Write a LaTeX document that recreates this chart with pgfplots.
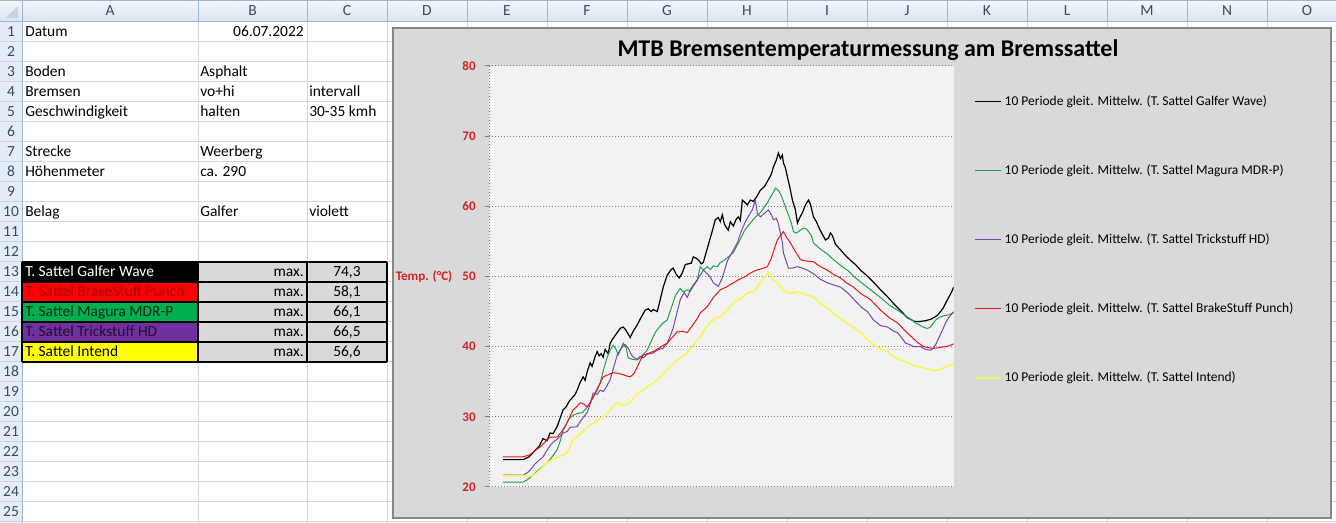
\documentclass[border=0pt]{standalone}
\usepackage{fontspec}
\setmainfont{Carlito}
\usepackage{pgfplots}
\pgfplotsset{compat=1.18}
\definecolor{gridc}{HTML}{D0D7E5}
\definecolor{hdrtop}{HTML}{F4F7FC}
\definecolor{hdrbot}{HTML}{DAE3EF}
\definecolor{rowhdr}{HTML}{E4ECF7}
\definecolor{hdrline}{HTML}{9EB6CE}
\definecolor{hdrtxt}{HTML}{3B4A63}
\definecolor{chartbg}{HTML}{D9D9D9}
\definecolor{chartborder}{HTML}{868686}
\definecolor{plotbg}{HTML}{F2F2F2}
\definecolor{gridgray}{HTML}{7F7F7F}
\definecolor{axred}{HTML}{D42323}
\definecolor{sgreen}{HTML}{1FA050}
\definecolor{spurple}{HTML}{7646B0}
\definecolor{sred}{HTML}{E8141E}
\definecolor{syellow}{HTML}{F5F560}
\definecolor{xgreen}{HTML}{00B050}
\definecolor{xpurple}{HTML}{7030A0}
\definecolor{xred}{HTML}{FF0000}
\definecolor{xyellow}{HTML}{FFFF00}
\definecolor{cellgray}{HTML}{D9D9D9}
\begin{document}
\begin{tikzpicture}
\begin{scope}[x=0.75pt,y=-0.75pt,font=\fontsize{11.6}{13}\selectfont]
\path[use as bounding box] (0,0) rectangle (1336,523);
\fill[white] (0,0) rectangle (1336,523);
% cell grid
\foreach \x in {198,307,387,467,547,627,707,787,867,947,1027,1107,1187,1267}
  \draw[gridc,line width=0.75pt] (\x,22) -- (\x,523);
\foreach \r in {1,...,25}
  \draw[gridc,line width=0.75pt] (22,22+20*\r) -- (1336,22+20*\r);
% headers
\shade[top color=hdrtop,bottom color=hdrbot] (0,0) rectangle (1336,22);
\fill[rowhdr] (0,22) rectangle (22,523);
\foreach \x in {22,198,307,387,467,547,627,707,787,867,947,1027,1107,1187,1267}
  \draw[hdrline,line width=0.75pt] (\x,0) -- (\x,22);
\foreach \r in {1,...,25}
  \draw[hdrline!60!white,line width=0.75pt] (0,22+20*\r) -- (22,22+20*\r);
\draw[hdrline,line width=0.75pt] (0,22) -- (1336,22);
\draw[hdrline,line width=0.75pt] (22,22) -- (22,523);
\draw[hdrline,line width=0.75pt] (0,0.5) -- (1336,0.5);
\fill[hdrline!60!white] (6,18) -- (18,18) -- (18,6) -- cycle;
\foreach \c/\x in {A/110,B/252.5,C/347,D/427,E/507,F/587,G/667,H/747,I/827,J/907,K/987,L/1067,M/1147,N/1227,O/1307}
  \node[anchor=base,text=hdrtxt,inner sep=0pt] at (\x,16) {\c};
\foreach \r in {1,...,25}
  \node[anchor=base,text=hdrtxt,inner sep=0pt] at (11,16.5+20*\r) {\r};
% cell texts
\node[anchor=base west,inner sep=0pt] at (25,36.5) {Datum};
\node[anchor=base east,inner sep=0pt] at (304,36.5) {06.07.2022};
\node[anchor=base west,inner sep=0pt] at (25,76.5) {Boden};
\node[anchor=base west,inner sep=0pt] at (200,76.5) {Asphalt};
\node[anchor=base west,inner sep=0pt] at (25,96.5) {Bremsen};
\node[anchor=base west,inner sep=0pt] at (200,96.5) {vo+hi};
\node[anchor=base west,inner sep=0pt] at (309,96.5) {intervall};
\node[anchor=base west,inner sep=0pt] at (25,116.5) {Geschwindigkeit};
\node[anchor=base west,inner sep=0pt] at (200,116.5) {halten};
\node[anchor=base west,inner sep=0pt] at (309,116.5) {30-35 kmh};
\node[anchor=base west,inner sep=0pt] at (25,156.5) {Strecke};
\node[anchor=base west,inner sep=0pt] at (200,156.5) {Weerberg};
\node[anchor=base west,inner sep=0pt] at (25,176.5) {Höhenmeter};
\node[anchor=base west,inner sep=0pt] at (200,176.5) {ca. 290};
\node[anchor=base west,inner sep=0pt] at (25,216.5) {Belag};
\node[anchor=base west,inner sep=0pt] at (200,216.5) {Galfer};
\node[anchor=base west,inner sep=0pt] at (309,216.5) {violett};
% table
\fill[black] (22,262) rectangle (198,282);
\fill[xred] (22,282) rectangle (198,302);
\fill[xgreen] (22,302) rectangle (198,322);
\fill[xpurple] (22,322) rectangle (198,342);
\fill[xyellow] (22,342) rectangle (198,362);
\fill[cellgray] (198,262) rectangle (387,362);
\foreach \r in {262,282,302,322,342,362}
  \draw[black,line width=0.9pt] (22,\r) -- (387,\r);
\foreach \x in {22,198,307,387}
  \draw[black,line width=0.9pt] (\x,262) -- (\x,362);
\node[anchor=base west,inner sep=0pt,text=white] at (25,276.5) {T. Sattel Galfer Wave};
\node[anchor=base west,inner sep=0pt,text=black!35!xred] at (25,296.5) {T. Sattel BrakeStuff Punch};
\node[anchor=base west,inner sep=0pt,text=black!75!xgreen] at (25,316.5) {T. Sattel Magura MDR-P};
\node[anchor=base west,inner sep=0pt,text=black!70!xpurple] at (25,336.5) {T. Sattel Trickstuff HD};
\node[anchor=base west,inner sep=0pt] at (25,356.5) {T. Sattel Intend};
\foreach \r/\v in {276.5/{74,3},296.5/{58,1},316.5/{66,1},336.5/{66,5},356.5/{56,6}}{
  \node[anchor=base east,inner sep=0pt] at (304,\r) {max.};
  \node[anchor=base,inner sep=0pt] at (347,\r) {\v};
}
% chart area
\draw[chartborder,fill=chartbg,line width=0.9pt] (393,28) rectangle (1331,518);
\node[anchor=base,inner sep=0pt,font=\bfseries\fontsize{18}{20}\selectfont] at (868,56.7)
  {MTB Bremsentemperaturmessung am Bremssattel};
\end{scope}
\begin{axis}[
  scale only axis,
  width=348pt, height=315.75pt,
  at={(366.75pt,-365.25pt)}, anchor=south west,
  xmin=0, xmax=464, ymin=20, ymax=80,
  xtick=\empty,
  ytick={20,30,...,80},
  axis background/.style={fill=plotbg},
  axis x line*=bottom, axis y line*=left,
  axis line style={gridgray, dash pattern=on 0.75pt off 1.5pt, line width=0.75pt},
  ymajorgrids,
  grid style={gridgray, dash pattern=on 0.75pt off 1.5pt, line width=0.75pt},
  tick align=outside, major tick length=3pt,
  y tick style={gridgray, solid, line width=0.75pt},
  /pgf/number format/assume math mode=true,
  yticklabel style={text=axred, font=\bfseries\fontsize{9.8}{11}\selectfont, xshift=-3.5pt},
  ylabel={Temp. (°C)},
  ylabel style={rotate=-90, anchor=east, at={(axis description cs:0,0.5)}, xshift=-24pt,
     text=axred, font=\bfseries\fontsize{9.8}{11}\selectfont},
  legend image code/.code={\draw[#1] (0pt,0pt) -- (20pt,0pt);},
  legend cell align=left,
  legend style={at={(axis description cs:1.0431,0.9295)}, anchor=north west,
     draw=none, fill=none, inner sep=0pt, outer sep=0pt,
     font=\fontsize{10.1}{11}\selectfont, row sep=42.75pt, column sep=2pt,
     nodes={inner sep=0pt, text height=7pt, text depth=2pt}},
]
\addplot[black, line width=0.9pt] coordinates {
(14,23.9) (34,23.9) (40,24.3) (44,24.9) (50,25.8) (54,26.9) (58,26.6) (61,27.7) (64,27.6) (68,28.6)
(71,29.8) (74,31) (77,31.4) (80,32.2) (83,32.7) (86,33.2) (88,33.8) (91,34.9) (94,35.7) (96,35.2)
(98,36.4) (101,37.7) (103,37.2) (106,38.6) (108,39.3) (110,38.7) (112,39.0) (114,38.5) (116,39.6) (119,39.0)
(121,40.5) (124,41.2) (128,42) (131,42.6) (134,42.8) (136,42.5) (139,41.8) (141,41.3) (144,42.2) (148,43.1)
(152,44.2) (156,45.2) (159,45.4) (162,45.0) (164,45.3) (168,45.0) (171,46.7) (174,48.5) (178,50.2) (182,51.0)
(184,51.2) (187,50.3) (190,49.8) (193,50.5) (196,51.7) (199,51.8) (202,51.9) (204,52.8) (207,52.6) (210,52.2)
(212,51.8) (214,52.0) (217,53.5) (220,55) (223,56.5) (226,58.1) (229,58.4) (231,57.8) (233,58.8) (235,57.5)
(237,57.0) (239,56.6) (241,57.8) (244,57.2) (247,58.2) (249,58.5) (251,58.0) (253,60.9) (256,60.5) (258,60.2)
(261,60.9) (264,60.7) (267,61.3) (271,62.3) (275,62.8) (279,63.8) (282,64.6) (284,65.6) (287,66.6) (289,67.6)
(291,66.8) (293,67.3) (294,66.2) (296,65.5) (298,64.2) (300,63.0) (303,60.9) (306,59.5) (308,57.6) (310,58.3)
(313,59.1) (316,60.2) (319,60.9) (321,60.3) (324,58.5) (327,57.8) (330,56.8) (333,56.0) (336,55.2) (339,55.5)
(341,56.2) (343,55.8) (346,54.6) (351,53.8) (356,53.0) (361,52.3) (366,51.7) (371,50.9) (376,50.3) (381,49.6)
(386,48.9) (391,48.1) (398,47.1) (405,46.0) (412,45.0) (418,44.1) (421,43.9) (425,43.6) (431,43.6) (436,43.7)
(441,43.9) (445,44.2) (448,44.5) (451,45.0) (454,45.6) (456,46.2) (459,47.0) (462,47.8) (464,48.5)
};
\addlegendentry{10 Periode gleit. Mittelw. (T. Sattel Galfer Wave)}
\addplot[sgreen, line width=0.75pt] coordinates {
(14,20.7) (34,20.7) (38,21.0) (44,21.7) (50,22.5) (58,23.4) (63,24.3) (68,25.3) (71,26.5) (74,28.1)
(78,29.2) (81,29.9) (85,30.3) (89,30.5) (93,30.6) (97,31.2) (101,32) (105,33.0) (108,33.8) (111,34.8)
(114,36.5) (118,38.5) (121,39.5) (124,40.2) (127,39.6) (129,38.8) (132,39.8) (134,40.5) (137,39.8) (139,38.4)
(143,38.2) (148,38.1) (152,38.6) (158,39.5) (162,40.8) (166,42) (170,42.8) (174,43.4) (178,43.8) (182,45.5)
(186,47.2) (188,47.7) (191,48.3) (194,47.8) (198,48.1) (201,47.9) (204,48.6) (208,49.5) (211,51.4) (214,50.9)
(218,51.4) (221,51.0) (224,51.5) (228,51.4) (231,52.0) (235,52.3) (239,52.8) (244,53.4) (248,54.5) (252,55.6)
(255,56.5) (258,57.1) (262,57.8) (267,58.6) (271,59.1) (275,59.9) (278,60.5) (281,61.3) (284,62.0) (286,62.6)
(289,62.3) (292,61.5) (294,60.7) (296,59.9) (299,58.8) (302,57.6) (304,56.4) (307,56.2) (310,56.5) (314,56.9)
(317,56.8) (319,56.4) (322,55.8) (324,54.8) (331,53.9) (338,53.2) (344,52.4) (351,51.6) (358,50.9) (366,49.8)
(374,48.9) (381,48.1) (391,47.0) (400,45.9) (407,45.3) (414,44.6) (421,43.9) (426,43.4) (431,43.0) (435,42.7)
(438,42.6) (441,42.8) (444,43.4) (446,43.8) (450,44.2) (454,44.4) (458,44.5) (464,44.8)
};
\addlegendentry{10 Periode gleit. Mittelw. (T. Sattel Magura MDR-P)}
\addplot[spurple, line width=0.75pt] coordinates {
(14,21.7) (34,21.7) (38,22.0) (41,22.4) (46,23.3) (54,24.3) (59,25.5) (64,26.4) (68,26.8) (74,27.7)
(78,27.9) (81,28.5) (88,28.6) (92,29.5) (98,30.6) (101,31.8) (104,33.4) (108,33.2) (111,33.8) (114,33.6)
(117,34.2) (121,35.3) (124,36.8) (128,38.8) (132,39.8) (136,40.3) (139,39.8) (142,38.9) (144,38.5) (148,38.2)
(151,38.6) (154,38.4) (158,38.9) (164,39.1) (168,39.5) (174,39.8) (178,40.5) (181,41.5) (184,42.7) (188,45.0)
(191,46.7) (195,47.7) (198,47.0) (201,48.1) (204,48.8) (208,49.5) (211,50.2) (214,50.9) (218,50.4) (221,49.9)
(224,49.1) (229,48.6) (233,49.8) (238,52.2) (243,53.5) (248,54.8) (252,56.5) (256,57.8) (260,58.8) (263,59.5)
(266,60.9) (268,59.0) (271,58.5) (275,59.0) (279,59.5) (282,58.8) (284,58.1) (287,58.3) (289,57.5) (291,56.2)
(293,54.8) (294,53.4) (296,52.5) (299,51.2) (303,51.2) (308,51.4) (313,51.2) (318,50.9) (324,50.4) (331,49.6)
(338,49.1) (344,48.8) (351,48.5) (358,47.7) (366,46.5) (372,45.6) (378,45.0) (384,43.8) (391,43.0) (398,42.8)
(404,42.2) (408,42.0) (412,41.3) (416,40.5) (420,40.3) (424,40.0) (431,40.0) (436,39.6) (441,39.5) (444,39.8)
(446,40.3) (449,41.2) (453,42.4) (456,43.4) (459,44.1) (464,45.0)
};
\addlegendentry{10 Periode gleit. Mittelw. (T. Sattel Trickstuff HD)}
\addplot[sred, line width=0.75pt] coordinates {
(14,24.3) (34,24.3) (41,24.6) (46,25.2) (51,25.7) (56,26.4) (61,27.1) (68,27.1) (72,27.8) (76,28.6)
(80,29.8) (84,31) (88,31.5) (91,32) (95,31.8) (98,31.4) (101,32.0) (104,32.8) (108,34.0) (111,34.8)
(114,35.7) (119,36.0) (124,36.3) (129,36.2) (134,36.0) (138,35.8) (141,35.7) (145,36.2) (148,37.1) (151,38.0)
(154,38.8) (158,39.0) (164,39.3) (170,39.8) (174,40.2) (178,40.5) (183,41.3) (188,42.1) (193,42.2) (198,42.0)
(203,43.0) (208,44.0) (211,44.8) (218,45.7) (224,47.0) (231,48.1) (237,48.5) (244,49.1) (250,49.6) (256,50.0)
(261,50.5) (267,50.9) (272,51.1) (278,51.4) (282,52.6) (285,54.0) (288,55.2) (291,55.8) (294,56.4) (297,55.6)
(301,54.8) (305,53.8) (309,52.9) (311,52.4) (317,52.2) (324,52.1) (331,51.4) (338,50.9) (344,50.3) (351,49.8)
(358,49.0) (364,48.5) (371,47.6) (381,46.7) (391,45.2) (400,44.1) (408,43.4) (416,42.2) (422,41.4) (428,40.6)
(434,40.0) (441,39.8) (447,39.8) (451,39.9) (455,40.0) (459,40.1) (464,40.4)
};
\addlegendentry{10 Periode gleit. Mittelw. (T. Sattel BrakeStuff Punch)}
\addplot[syellow, line width=1.3pt] coordinates {
(14,21.6) (44,21.6) (50,22.3) (54,22.9) (58,23.4) (63,23.9) (68,24.2) (73,24.5) (78,24.9) (81,25.8)
(84,26.7) (89,27.3) (94,27.9) (99,28.6) (104,29.1) (109,29.6) (114,30.0) (120,30.8) (124,31.5) (128,32.0)
(133,31.6) (137,31.8) (141,32.0) (145,32.8) (150,33.5) (154,33.8) (158,34.3) (163,34.7) (168,35.3) (172,35.8)
(176,36.5) (181,37.1) (186,37.8) (191,38.4) (198,39.1) (204,40.2) (211,41.4) (217,42.8) (222,43.6) (226,44.0)
(231,44.3) (236,44.9) (241,45.8) (246,46.5) (251,46.7) (255,47.3) (260,47.8) (264,47.8) (268,48.5) (272,49.3)
(276,50.0) (279,50.6) (282,49.8) (284,49.5) (287,49.2) (291,48.5) (294,48.0) (298,47.7) (303,47.6) (308,47.8)
(314,47.6) (319,47.3) (324,47.1) (331,46.2) (338,45.5) (345,44.6) (351,44.0) (358,43.3) (364,42.8) (371,42.0)
(378,41.0) (385,40.2) (392,39.6) (398,39.3) (405,38.5) (412,38.0) (418,37.8) (424,37.3) (431,37.1) (438,36.8)
(446,36.6) (450,36.7) (454,37.0) (458,37.2) (464,37.5)
};
\addlegendentry{10 Periode gleit. Mittelw. (T. Sattel Intend)}
\end{axis}
\end{tikzpicture}
\end{document}
